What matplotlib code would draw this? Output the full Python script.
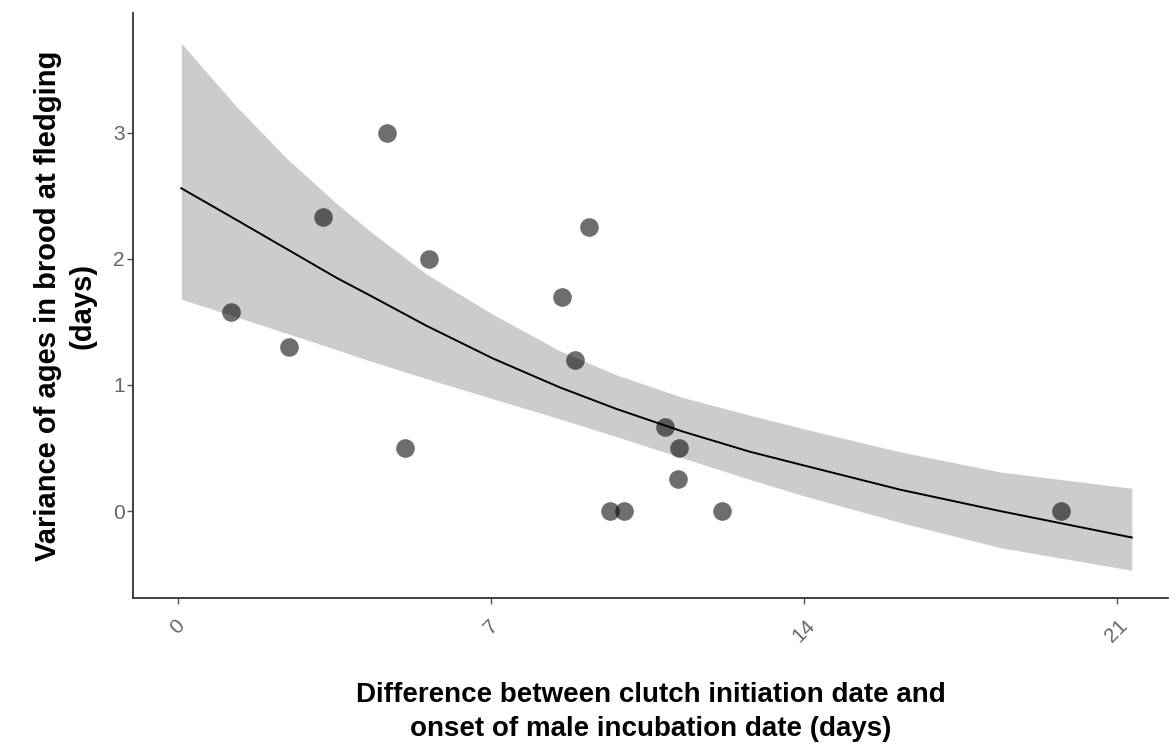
import matplotlib
matplotlib.use("Agg")
import matplotlib.pyplot as plt

# Observed data points
x_obs = [1.19, 2.50, 3.24, 4.68, 5.09, 5.63, 8.60, 8.89, 9.19, 9.67, 9.99, 10.89, 11.21, 11.19, 12.18, 19.75]
y_obs = [1.58, 1.30, 2.33, 3.00, 0.50, 2.00, 1.70, 1.20, 2.25, 0.00, 0.00, 0.67, 0.50, 0.25, 0.00, 0.00]

# Fitted curve and confidence band
x_fit = [0.08, 1.31, 2.43, 3.55, 4.30, 5.56, 7.05, 8.55, 9.81, 11.30, 12.80, 13.91, 16.15, 18.39, 21.34]
y_fit = [2.56, 2.31, 2.08, 1.85, 1.71, 1.47, 1.21, 0.98, 0.81, 0.63, 0.47, 0.37, 0.17, 0.00, -0.21]
y_upper = [3.71, 3.21, 2.80, 2.44, 2.22, 1.88, 1.56, 1.27, 1.08, 0.90, 0.76, 0.66, 0.47, 0.31, 0.18]
y_lower = [1.68, 1.54, 1.41, 1.28, 1.19, 1.05, 0.89, 0.73, 0.59, 0.42, 0.25, 0.13, -0.09, -0.29, -0.47]

x_ticks = [0, 7, 14, 21]
y_ticks = [0, 1, 2, 3]

xlabel = "Difference between clutch initiation date and\nonset of male incubation date (days)"
ylabel = "Variance of ages in brood at fledging\n(days)"

plt.rcParams['font.family'] = ['Liberation Sans', 'DejaVu Sans']

fig = plt.figure(figsize=(11.76, 7.5), dpi=100)
ax = fig.add_axes([133/1176, 1 - 598/750, (1168 - 133)/1176, (598 - 13)/750])

ax.fill_between(x_fit, y_lower, y_upper, color='#cccccc', linewidth=0, zorder=1)
ax.plot(x_fit, y_fit, color='black', linewidth=1.4, zorder=2, solid_joinstyle='round')
ax.scatter(x_obs, y_obs, s=180, color='black', alpha=0.57, linewidths=0, zorder=3)

ax.set_xlim(-1.0, 22.15)
ax.set_ylim(-0.69, 3.95)
ax.set_xticks(x_ticks)
ax.set_yticks(y_ticks)
ax.set_xticklabels([str(t) for t in x_ticks], rotation=45, ha='center', va='top')

for s in ['top', 'right']:
    ax.spines[s].set_visible(False)
for s in ['left', 'bottom']:
    ax.spines[s].set_color('#333333')
    ax.spines[s].set_linewidth(1.3)

ax.tick_params(axis='both', colors='#555555', labelcolor='#666666', labelsize=15,
               length=4, width=1)
ax.tick_params(axis='x', pad=9)
ax.tick_params(axis='y', pad=2)

ax.set_xlabel(xlabel, fontsize=20, fontweight='bold', labelpad=26, linespacing=1.4)
ax.set_ylabel(ylabel, fontsize=21, fontweight='bold', labelpad=12, linespacing=1.3)

fig.savefig('out.png', dpi=100)
